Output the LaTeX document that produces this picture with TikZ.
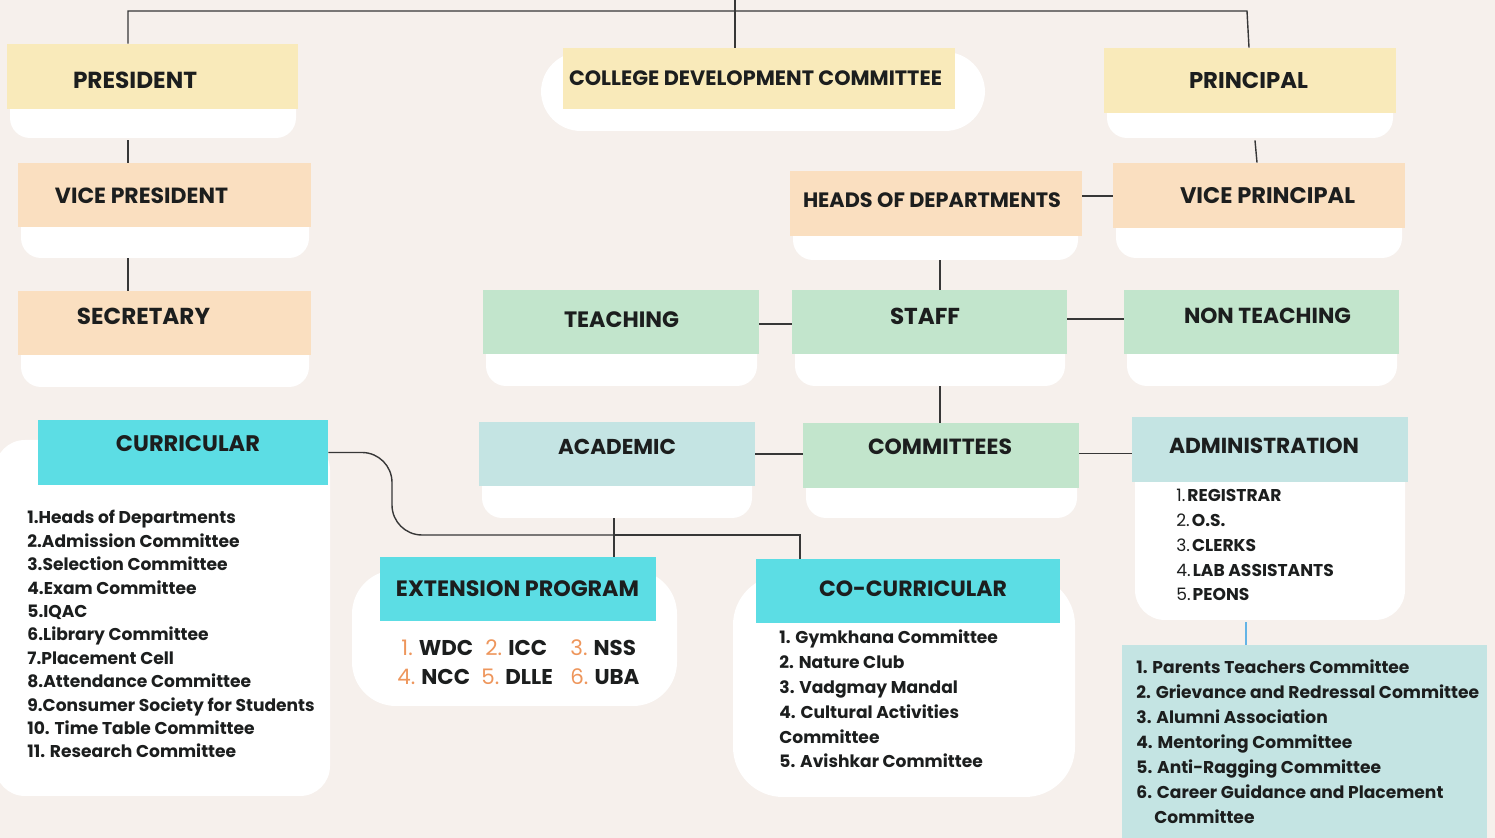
\documentclass[tikz,border=0pt]{standalone}
\usepackage{fontspec}
\setmainfont{Poppins}
\usetikzlibrary{fit}
\definecolor{bgc}{RGB}{246,240,236}
\definecolor{yelc}{RGB}{249,234,186}
\definecolor{peac}{RGB}{250,223,192}
\definecolor{grnc}{RGB}{194,229,204}
\definecolor{tealc}{RGB}{196,228,227}
\definecolor{cyac}{RGB}{92,221,228}
\definecolor{orgc}{RGB}{238,150,92}
\definecolor{inkc}{RGB}{28,30,30}
\definecolor{linec}{RGB}{55,55,55}
\definecolor{bluec}{RGB}{100,180,230}
\newcommand\lstf{\fontsize{8.55pt}{10pt}\selectfont\bfseries}
\newcommand\extf{\fontsize{10.7pt}{12pt}\selectfont\bfseries}
\begin{document}
\begin{tikzpicture}[x=0.5pt,y=-0.5pt,
  card/.style={fill=white, rounded corners=#1, inner sep=0pt},
  card/.default=10pt,
  hdr/.style={fill=#1, inner sep=0pt},
  ht/.style={inner sep=0pt, text=inkc, font=\bfseries},
  itm/.style={inner sep=0pt, text=inkc, font=\lstf, anchor=base west},
  ext/.style={inner sep=0pt, text=inkc, font=\extf, anchor=base west},
  conn/.style={draw=linec, line width=0.7pt}]
\useasboundingbox[fill=bgc] (0,0) rectangle (1495,838);

% white cards
\node[card, fit={(10,60)(296,138)}] (presC) {};
\node[card, fit={(21,180)(309,258)}] (vpC) {};
\node[card, fit={(21,300)(309,387)}] (secC) {};
\node[card=20pt, fit={(541,52)(985,131)}] (cdcC) {};
\node[card, fit={(1107,60)(1393,138)}] (princC) {};
\node[card, fit={(793,190)(1078,260)}] (hodC) {};
\node[card, fit={(1116,180)(1402,258)}] (vprC) {};
\node[card, fit={(486,300)(757,386)}] (teachC) {};
\node[card, fit={(795,300)(1065,386)}] (staffC) {};
\node[card, fit={(1127,300)(1397,386)}] (nontC) {};
\node[card, fit={(482,430)(752,518)}] (acadC) {};
\node[card, fit={(806,430)(1077,518)}] (commC) {};
\node[card=15pt, fit={(1135,425)(1405,620)}] (adminC) {};
\node[card=15pt, fit={(-5,440)(330,796)}] (curC) {};
\node[card=22pt, fit={(352,570)(677,706)}] (extC) {};
\node[card=25pt, fit={(733,575)(1075,797)}] (cocurC) {};

% headers
\node[hdr=yelc, fit={(7,44)(298,109)}] (pres) {};
\node[hdr=peac, fit={(18,163)(311,227)}] (vp) {};
\node[hdr=peac, fit={(18,291)(311,355)}] (sec) {};
\node[hdr=yelc, fit={(563,48)(955,109)}] (cdc) {};
\node[hdr=yelc, fit={(1104,48)(1396,113)}] (princ) {};
\node[hdr=peac, fit={(790,171)(1082,236)}] (hod) {};
\node[hdr=peac, fit={(1113,163)(1405,228)}] (vpr) {};
\node[hdr=grnc, fit={(483,290)(759,354)}] (teach) {};
\node[hdr=grnc, fit={(792,290)(1067,354)}] (staff) {};
\node[hdr=grnc, fit={(1124,290)(1399,354)}] (nont) {};
\node[hdr=tealc, fit={(479,422)(755,486)}] (acad) {};
\node[hdr=grnc, fit={(803,423)(1079,488)}] (comm) {};
\node[hdr=tealc, fit={(1132,417)(1408,482)}] (admin) {};
\node[hdr=cyac, fit={(38,420)(328,485)}] (cur) {};
\node[hdr=cyac, fit={(380,557)(656,621)}] (ext) {};
\node[hdr=cyac, fit={(756,559)(1060,623)}] (cocur) {};
\node[hdr=tealc, fit={(1122,645)(1487,845)}] (pcom) {};

% heading texts
\node[ht] (presT) at (135,80) {\resizebox{62pt}{!}{PRESIDENT}};
\node[ht] (vpT) at (141.5,196) {\resizebox{86.5pt}{!}{VICE PRESIDENT}};
\node[ht] (secT) at (143.5,316) {\resizebox{66.5pt}{!}{SECRETARY}};
\node[ht] (cdcT) at (755.5,78) {\resizebox{186.5pt}{!}{COLLEGE DEVELOPMENT COMMITTEE}};
\node[ht] (princT) at (1248.5,80) {\resizebox{59.5pt}{!}{PRINCIPAL}};
\node[ht] (hodT) at (932,200) {\resizebox{129pt}{!}{HEADS OF DEPARTMENTS}};
\node[ht] (vprT) at (1267.5,196) {\resizebox{87.5pt}{!}{VICE PRINCIPAL}};
\node[ht] (teachT) at (621.5,320) {\resizebox{57.5pt}{!}{TEACHING}};
\node[ht] (staffT) at (925,316) {\resizebox{35pt}{!}{STAFF}};
\node[ht] (nontT) at (1267.5,316) {\resizebox{83.5pt}{!}{NON TEACHING}};
\node[ht] (acadT) at (617,447) {\resizebox{59pt}{!}{ACADEMIC}};
\node[ht] (commT) at (940,447) {\resizebox{72pt}{!}{COMMITTEES}};
\node[ht] (adminT) at (1264,446) {\resizebox{95pt}{!}{ADMINISTRATION}};
\node[ht] (curT) at (188,444) {\resizebox{72pt}{!}{CURRICULAR}};
\node[ht] (extT) at (517.5,589) {\resizebox{121.5pt}{!}{EXTENSION PROGRAM}};
\node[ht] (cocurT) at (913,589) {\resizebox{94pt}{!}{CO-CURRICULAR}};

% lists
\foreach \t [count=\i] in {1.Heads of Departments, 2.Admission Committee,
  3.Selection Committee, 4.Exam Committee, 5.IQAC, 6.Library Committee,
  7.Placement Cell, 8.Attendance Committee, 9.Consumer Society for Students,
  10. Time Table Committee, 11. Research Committee}
  \node[itm] (curL\i) at (27,{524+(\i-1)*23.4}) {\t};
\foreach \t [count=\i] in {1. Gymkhana Committee, 2. Nature Club,
  3. Vadgmay Mandal, 4. Cultural Activities, Committee, 5. Avishkar Committee}
  \node[itm] (cocL\i) at (779,{644+(\i-1)*24.8}) {\t};
\foreach \n/\t [count=\i] in {1/REGISTRAR, 2/O.S., 3/CLERKS, 4/LAB ASSISTANTS, 5/PEONS}
  \node[itm] (admL\i) at (1176,{502+(\i-1)*24.75}) {{\mdseries\n.}\hspace{1pt}\t};
\foreach \t [count=\i] in {1. Parents Teachers Committee,
  2. Grievance and Redressal Committee, 3. Alumni Association,
  4. Mentoring Committee, 5. Anti-Ragging Committee,
  6. Career Guidance and Placement}
  \node[itm] (pcL\i) at (1136,{674+(\i-1)*24.9}) {\t};
\node[itm] (pcL7) at (1154,{674+6*24.9}) {Committee};

\node[ext] (ex1) at (401,656) {{\color{orgc}\mdseries 1.} WDC};
\node[ext] (ex2) at (485,656) {{\color{orgc}\mdseries 2.} ICC};
\node[ext] (ex3) at (570,656) {{\color{orgc}\mdseries 3.} NSS};
\node[ext] (ex4) at (397,685) {{\color{orgc}\mdseries 4.} NCC};
\node[ext] (ex5) at (481,685) {{\color{orgc}\mdseries 5.} DLLE};
\node[ext] (ex6) at (570,685) {{\color{orgc}\mdseries 6.} UBA};

% helper coordinates
\coordinate (tl) at (128,11);
\coordinate (tr) at (1247,11);
\coordinate (tc) at (735,0);
\coordinate (pv) at (1255,0);
\coordinate (c940) at (940,0);
\coordinate (c392) at (392,0);
\coordinate (c535) at (0,535);
\coordinate (c614) at (614,0);
\coordinate (c800) at (800,0);
\coordinate (c1246) at (1246,0);

% connectors
\draw[conn] (pres.north -| tl) -- (tl) -- (tr) -- ([xshift=1pt]tr |- princ.north);
\draw[conn] (tc) -- (tc |- cdc.north);
\draw[conn] ([yshift=-1pt]presC.south -| tl) -- (vp.north -| tl);
\draw[conn] (vpC.south -| tl) -- (sec.north -| tl);
\draw[conn] ([yshift=-1pt]princC.south -| pv) -- ([xshift=1pt]vpr.north -| pv);
\path (hod.east) ++(0,-7.5) coordinate (h1);
\draw[conn] (h1) -- (h1 -| vpr.west);
\draw[conn] (hodC.south -| c940) -- (staff.north -| c940);
\path (teach.east) ++(0,2) coordinate (t1);
\draw[conn] (t1) -- (t1 -| staff.west);
\path (staff.east) ++(0,-3) coordinate (s1);
\draw[conn] (s1) -- (s1 -| nont.west);
\draw[conn] (staffC.south -| c940) -- (comm.north -| c940);
\draw[conn] (acad.east) -- (acad.east -| comm.west);
\path (comm.east) ++(0,-2) coordinate (m1);
\draw[conn] (m1) -- (m1 -| admin.west);
\draw[conn] (acadC.south -| c614) -- (ext.north -| c614);
\draw[conn, rounded corners=15pt] (cur.east) -- (cur.east -| c392) -- (c392 |- c535) -- (c614 |- c535);
\draw[conn] (c614 |- c535) -- (c800 |- c535) -- (c800 |- cocur.north);
\draw[draw=bluec, line width=1pt] ([yshift=-1pt]adminC.south -| c1246) -- (pcom.north -| c1246);
\end{tikzpicture}
\end{document}
